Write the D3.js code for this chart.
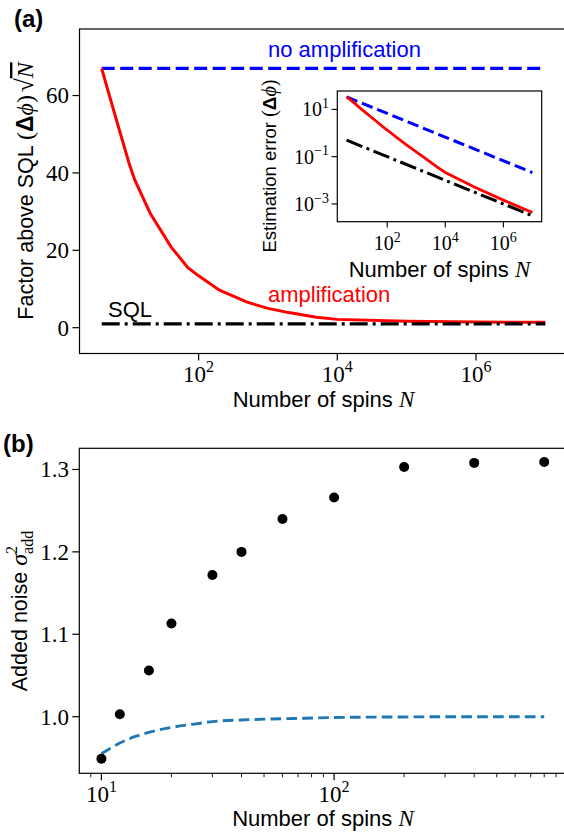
<!DOCTYPE html>
<html><head><meta charset="utf-8">
<script src="https://cdn.jsdelivr.net/npm/d3@7"></script>
<style>
html,body{margin:0;padding:0;background:#fff;}
svg{display:block;}
.sans{font-family:"Liberation Sans",Arial,sans-serif;}
.serif{font-family:"Liberation Serif","Times New Roman",serif;}
</style></head>
<body>
<script>
// ---------- DATA ----------
// Panel (a): factor above SQL (Δφ)√N
const ampN = [4,5,7,10,12,20,40,70,100,200,500,1000,2000,5000,1e4,1e5,1e6,1e7];
const ampFactor = [67.0,60.9,51.8,42.3,38.2,29.6,20.9,15.5,13.4,9.7,6.6,5.0,3.9,2.7,2.15,1.65,1.45,1.38];
const limitN = [4,1e7];
const noAmpFactor = [67,67];
const sqlFactor = [1,1];
// Inset: estimation error (Δφ)
const insetAmpErr = [33.5,27.2,19.6,13.4,11.0,6.62,3.30,1.85,1.34,0.686,0.295,0.158,0.0872,0.0382,0.0215,0.00522,0.00145,0.000436];
const insetNoAmpErr = [33.5,0.0212];
const insetSqlErr = [0.5,0.000316];
// Panel (b): added noise
const noiseN = [10,12,16,20,30,40,60,100,200,400,800];
const noiseVals = [0.949,1.003,1.056,1.113,1.172,1.200,1.240,1.266,1.303,1.308,1.309];
const refN = [10,12,14,16,20,25,30,40,50,70,100,200,400,800];
const refVals = [0.955,0.968,0.976,0.981,0.987,0.991,0.994,0.996,0.997,0.998,0.999,0.9997,1.0,1.0];
// Ticks
const aXTicks = [1e2,1e4,1e6];
const aYTicks = [0,20,40,60];
const inXTicks = [1e2,1e4,1e6];
const inYTicks = [1e1,1e-1,1e-3];
const bXTicks = [10,100];
const bXMinor = [9,20,30,40,50,60,70,80,90,200,300,400,500,600,700,800,900];
const bYTicks = [1.0,1.1,1.2,1.3];
const bYLabels = ["1.0","1.1","1.2","1.3"];

// ---------- SETUP ----------
const W = 564, H = 838;
const svg = d3.select("body").append("svg").attr("width",W).attr("height",H);
const SANS = '"Liberation Sans",Arial,sans-serif';
const SERIF = '"Liberation Serif","Times New Roman",serif';

function supLabel(g, x, y, base, exp, size, anchor){
  const t = g.append("text").attr("x",x).attr("y",y).attr("text-anchor",anchor)
    .attr("font-family",SERIF).attr("font-size",size).attr("fill","#000");
  t.append("tspan").text(base);
  t.append("tspan").attr("font-size",Math.round(size*0.7)).attr("dy",-size*0.42).text(exp);
  return t;
}

// ---------- PANEL (a) ----------
const ax = d3.scaleLog().domain([Math.pow(10,0.282),Math.pow(10,7.32)]).range([79.5,567.5]);
const ay = d3.scaleLinear().domain([-6.67,77.2]).range([353.5,29]);
const ga = svg.append("g");

const lineA = (xs,ys)=> d3.line().x((d,i)=>ax(xs[i])).y((d,i)=>ay(ys[i]))(xs);
ga.append("path").attr("d",lineA(limitN,noAmpFactor)).attr("fill","none")
  .attr("stroke","#0000ff").attr("stroke-width",3.2).attr("stroke-dasharray","13,5.5");
ga.append("path").attr("d",lineA(ampN,ampFactor)).attr("fill","none")
  .attr("stroke","#ff0000").attr("stroke-width",3);
ga.append("path").attr("d",lineA(limitN,sqlFactor)).attr("fill","none")
  .attr("stroke","#000").attr("stroke-width",3.2).attr("stroke-dasharray","18,5,3,5");

// spines
ga.append("rect").attr("x",79.5).attr("y",29).attr("width",488).attr("height",324.5)
  .attr("fill","none").attr("stroke","#000").attr("stroke-width",1.2);
// x ticks
aXTicks.forEach(v=>{
  ga.append("line").attr("x1",ax(v)).attr("x2",ax(v)).attr("y1",353.5).attr("y2",360.5).attr("stroke","#000").attr("stroke-width",1.2);
  supLabel(ga, ax(v), 381.5, "10", String(Math.round(Math.log10(v))), 23, "middle");
});
aYTicks.forEach(v=>{
  ga.append("line").attr("x1",72.5).attr("x2",79.5).attr("y1",ay(v)).attr("y2",ay(v)).attr("stroke","#000").attr("stroke-width",1.2);
  ga.append("text").attr("x",69).attr("y",ay(v)).attr("dy","0.34em").attr("text-anchor","end")
    .attr("font-family",SERIF).attr("font-size",23).text(v);
});
// labels
ga.append("text").attr("x",323.5).attr("y",406.5).attr("text-anchor","middle").attr("font-family",SANS).attr("font-size",22)
  .call(t=>{t.append("tspan").text("Number of spins ");t.append("tspan").attr("font-family",SERIF).attr("font-style","italic").attr("font-size",23).text("N");});
ga.append("text").attr("transform","translate(33,191) rotate(-90)").attr("text-anchor","middle").attr("font-family",SANS).attr("font-size",21.5)
  .call(t=>{
    t.append("tspan").text("Factor above SQL ");
    t.append("tspan").attr("font-family",SERIF).attr("font-size",24).text("(");
    t.append("tspan").attr("font-weight","bold").attr("font-size",23).text("Δ");
    t.append("tspan").attr("font-family",SERIF).attr("font-style","italic").attr("font-size",24).text("ϕ");
    t.append("tspan").attr("font-family",SERIF).attr("font-size",24).text(")");
    t.append("tspan").attr("font-family",SERIF).attr("font-size",25).attr("dx",3).text("√");
    t.append("tspan").attr("font-family",SERIF).attr("font-style","italic").attr("font-size",24)
      .attr("text-decoration","overline").text("N");
  });
ga.append("text").attr("x",268).attr("y",57).attr("font-family",SANS).attr("font-size",22).attr("fill","#0000ff").text("no amplification");
ga.append("text").attr("x",268).attr("y",302).attr("font-family",SANS).attr("font-size",22).attr("fill","#ff0000").text("amplification");
ga.append("text").attr("x",108).attr("y",317).attr("font-family",SANS).attr("font-size",22).attr("fill","#000").text("SQL");
svg.append("text").attr("x",14).attr("y",27).attr("font-family",SANS).attr("font-weight","bold").attr("font-size",24).text("(a)");

// ---------- INSET ----------
const ix = d3.scaleLog().domain([Math.pow(10,0.282),Math.pow(10,7.32)]).range([337.3,541.7]);
const iy = d3.scaleLog().domain([Math.pow(10,-3.75),Math.pow(10,1.776)]).range([221.7,91]);
const gi = svg.append("g");
gi.append("rect").attr("x",337.3).attr("y",91).attr("width",204.4).attr("height",130.7).attr("fill","#fff");
const lineI = (xs,ys)=> d3.line().x((d,i)=>ix(xs[i])).y((d,i)=>iy(ys[i]))(xs);
gi.append("path").attr("d",lineI(limitN,insetNoAmpErr)).attr("fill","none")
  .attr("stroke","#0000ff").attr("stroke-width",3).attr("stroke-dasharray","11.5,5");
gi.append("path").attr("d",lineI(ampN,insetAmpErr)).attr("fill","none")
  .attr("stroke","#ff0000").attr("stroke-width",2.8);
gi.append("path").attr("d",lineI(limitN,insetSqlErr)).attr("fill","none")
  .attr("stroke","#000").attr("stroke-width",3).attr("stroke-dasharray","17,4.5,3,4.5");
gi.append("rect").attr("x",337.3).attr("y",91).attr("width",204.4).attr("height",130.7)
  .attr("fill","none").attr("stroke","#000").attr("stroke-width",1.2);
inXTicks.forEach(v=>{
  gi.append("line").attr("x1",ix(v)).attr("x2",ix(v)).attr("y1",221.7).attr("y2",227.5).attr("stroke","#000").attr("stroke-width",1.1);
  supLabel(gi, ix(v), 250, "10", String(Math.round(Math.log10(v))), 20, "middle");
});
inYTicks.forEach(v=>{
  gi.append("line").attr("x1",331.5).attr("x2",337.3).attr("y1",iy(v)).attr("y2",iy(v)).attr("stroke","#000").attr("stroke-width",1.1);
  const e = Math.round(Math.log10(v));
  supLabel(gi, 329, iy(v)+7, "10", (e<0?"−":"")+Math.abs(e), 20, "end");
});
gi.append("text").attr("x",439.5).attr("y",276.5).attr("text-anchor","middle").attr("font-family",SANS).attr("font-size",22)
  .call(t=>{t.append("tspan").text("Number of spins ");t.append("tspan").attr("font-family",SERIF).attr("font-style","italic").attr("font-size",23).text("N");});
gi.append("text").attr("transform","translate(276,166) rotate(-90)").attr("text-anchor","middle").attr("font-family",SANS).attr("font-size",18.5)
  .call(t=>{
    t.append("tspan").text("Estimation error ");
    t.append("tspan").attr("font-family",SERIF).attr("font-size",20).text("(");
    t.append("tspan").attr("font-weight","bold").attr("font-size",19).text("Δ");
    t.append("tspan").attr("font-family",SERIF).attr("font-style","italic").attr("font-size",20).text("ϕ");
    t.append("tspan").attr("font-family",SERIF).attr("font-size",20).text(")");
  });

// ---------- PANEL (b) ----------
const bx = d3.scaleLog().domain([Math.pow(10,0.905),Math.pow(10,2.998)]).range([79.3,566.3]);
const by = d3.scaleLinear().domain([0.9313,1.3257]).range([773.3,448.3]);
const gb = svg.append("g");
gb.append("path").attr("d", d3.line().curve(d3.curveMonotoneX).x((d,i)=>bx(refN[i])).y((d,i)=>by(refVals[i]))(refN))
  .attr("fill","none").attr("stroke","#1f77b4").attr("stroke-width",2.9).attr("stroke-dasharray","10.7,5.2");
gb.selectAll("circle.pt").data(noiseN).enter().append("circle")
  .attr("cx",d=>bx(d)).attr("cy",(d,i)=>by(noiseVals[i])).attr("r",5).attr("fill","#000");
gb.append("rect").attr("x",79.3).attr("y",448.3).attr("width",487).attr("height",325)
  .attr("fill","none").attr("stroke","#000").attr("stroke-width",1.2);
bXTicks.forEach(v=>{
  gb.append("line").attr("x1",bx(v)).attr("x2",bx(v)).attr("y1",773.3).attr("y2",780.3).attr("stroke","#000").attr("stroke-width",1.2);
  supLabel(gb, bx(v), 801.5, "10", String(Math.round(Math.log10(v))), 23, "middle");
});
bXMinor.forEach(v=>{
  gb.append("line").attr("x1",bx(v)).attr("x2",bx(v)).attr("y1",773.3).attr("y2",777.3).attr("stroke","#000").attr("stroke-width",0.9);
});
bYTicks.forEach((v,i)=>{
  gb.append("line").attr("x1",72.3).attr("x2",79.3).attr("y1",by(v)).attr("y2",by(v)).attr("stroke","#000").attr("stroke-width",1.2);
  gb.append("text").attr("x",69).attr("y",by(v)).attr("dy","0.34em").attr("text-anchor","end")
    .attr("font-family",SERIF).attr("font-size",23).text(bYLabels[i]);
});
gb.append("text").attr("x",323).attr("y",826).attr("text-anchor","middle").attr("font-family",SANS).attr("font-size",22)
  .call(t=>{t.append("tspan").text("Number of spins ");t.append("tspan").attr("font-family",SERIF).attr("font-style","italic").attr("font-size",23).text("N");});
gb.append("text").attr("transform","translate(26.5,611) rotate(-90)").attr("text-anchor","middle").attr("font-family",SANS).attr("font-size",21.5)
  .call(t=>{
    t.append("tspan").text("Added noise ");
    t.append("tspan").attr("font-family",SERIF).attr("font-style","italic").attr("font-size",24).text("σ");
    t.append("tspan").attr("font-family",SERIF).attr("font-size",16).attr("dy",-10).text("2");
    t.append("tspan").attr("font-family",SERIF).attr("font-size",16).attr("dx",-8).attr("dy",16).text("add");
  });
svg.append("text").attr("x",3).attr("y",452).attr("font-family",SANS).attr("font-weight","bold").attr("font-size",24).text("(b)");
</script>
</body></html>
